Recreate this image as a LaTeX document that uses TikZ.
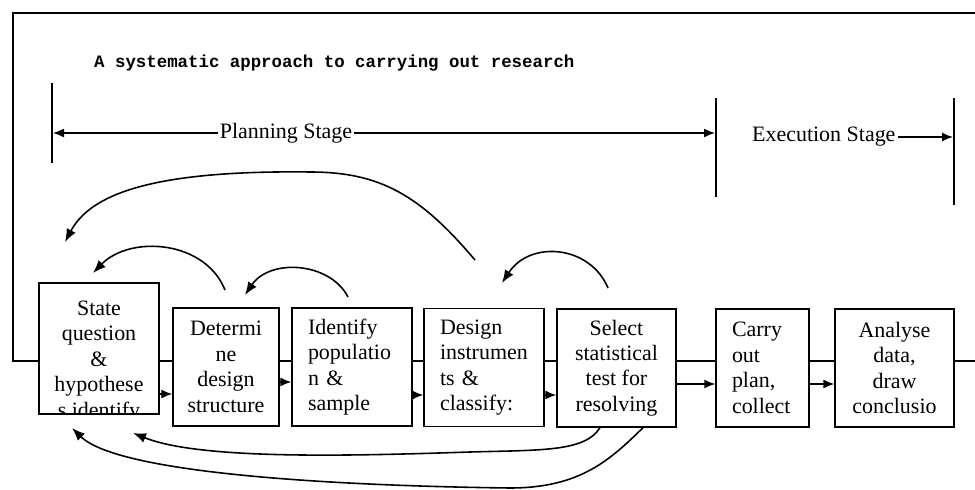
\documentclass[tikz,border=0pt]{standalone}
\usepackage{fontspec}
\setmainfont{Liberation Serif}
\setmonofont{Liberation Mono}
\usetikzlibrary{arrows.meta}
\hyphenpenalty=10000
\exhyphenpenalty=10000

\begin{document}
\begin{tikzpicture}[x=0.2mm,y=-0.2mm,
    box/.style={draw, fill=white, line width=0.8pt, minimum height=23.6mm, inner sep=0pt,
        font=\fontsize{12.5}{14.5}\selectfont},
    lbox/.style={box, align=left, inner xsep=3.2mm},
    cbox/.style={box, align=center},
    arr/.style={-{Latex[length=2.2mm,width=1.8mm]}, line width=0.8pt},
    fb/.style={-{Latex[length=2.6mm,width=2mm]}, line width=0.9pt},
    stage/.style={font=\fontsize{12.5}{15}\selectfont, inner sep=1pt}]
    \useasboundingbox[fill=white] (0,0) rectangle (975,490);

    \node[anchor=west, font=\ttfamily\bfseries\fontsize{9.9}{12}\selectfont] (title) at (88,63) {A systematic approach to carrying out research};

    % stages
    \draw[line width=0.8pt] (52,83) -- (52,163);
    \draw[line width=0.8pt] (716,98) -- (716,197);
    \draw[line width=0.8pt] (954,98) -- (954,205);
    \coordinate (s0) at (53,133);
    \coordinate (s1) at (715,133);
    \coordinate (s2) at (953,137);
    \node[stage] (plan) at (286,133) {Planning Stage};
    \node[stage, anchor=west] (exec) at (750,137) {Execution Stage};
    \draw[arr] (plan.west) -- (s0);
    \draw[arr] (plan.east) -- (s1);
    \draw[arr] (exec.east) -- (s2);

    % frame line
    \coordinate (fr) at (13,361);
    \draw[line width=0.8pt] (975,13) -- (13,13) -- (fr) -- (975,361);

    % boxes
    \node[cbox, minimum width=24mm, minimum height=26.2mm] (b1) at (99,348.5) {};
    \begin{scope}
        \clip (b1.south west) rectangle (b1.north east);
        \node[anchor=north, align=center, inner sep=0pt, font=\fontsize{12.5}{14.5}\selectfont] (t1) at ([yshift=-3.6mm]b1.north) {State\\question\\\&\\hypothese\\s identify};
    \end{scope}
    \node[cbox, minimum width=21.2mm] (b2) at (226,367) {Determi\\ne\\design\\structure};
    \node[lbox, text width=17.6mm] (b3) at (352,367) {Identify\\populatio\\n \&\\sample};
    \node[lbox, text width=17.6mm] (b4) at (484,367.5) {Design\\instrumen\\ts \&\\classify:};
    \node[cbox, minimum width=23.8mm] (b5) at (616.5,368) {Select\\statistical\\test for\\resolving};
    \node[lbox, text width=12.2mm] (b6) at (762.5,368) {Carry\\out\\plan,\\collect};
    \node[cbox, minimum width=23.8mm] (b7) at (894.5,368) {Analyse\\data,\\draw\\conclusio};

    \draw[arr] ([yshift=-9.1mm]b1.east) coordinate (p1) -- (p1 -| b2.west);
    \draw[arr] ([yshift=-3mm]b2.east) coordinate (p2) -- (p2 -| b3.west);
    \draw[arr] ([yshift=-5.6mm]b3.east) coordinate (p3) -- (p3 -| b4.west);
    \draw[arr] ([yshift=-5.5mm]b4.east) coordinate (p4) -- (p4 -| b5.west);
    \draw[arr] ([yshift=-3.2mm]b5.east) coordinate (p5) -- (p5 -| b6.west);
    \draw[arr] ([yshift=-3.2mm]b6.east) coordinate (p6) -- (p6 -| b7.west);

    % feedback
    \coordinate (c1s) at (475,260);
    \coordinate (c1e) at (65,242);
    \coordinate (c2s) at (225,290);
    \coordinate (c2e) at (93,273);
    \coordinate (c3s) at (348,297);
    \coordinate (c3e) at (245,295);
    \coordinate (c4s) at (608,288);
    \coordinate (c4e) at (502,283);
    \coordinate (c5e) at (133,433);
    \coordinate (c6e) at (72,428);
    \draw[fb] (c1s) .. controls (420,195) and (380,172) .. (310,172) .. controls (150,170) and (90,195) .. (c1e);
    \draw[fb] (c2s) .. controls (205,240) and (130,235) .. (c2e);
    \draw[fb] (c3s) .. controls (330,262) and (270,258) .. (c3e);
    \draw[fb] (c4s) .. controls (590,245) and (530,240) .. (c4e);
    \draw[fb] ([xshift=-3.3mm]b5.south) .. controls (585,452) and (540,450) .. (470,452) .. controls (350,456) and (200,460) .. (c5e);
    \draw[fb] ([xshift=5.3mm]b5.south) .. controls (610,460) and (580,488) .. (510,488) .. controls (350,486) and (120,475) .. (c6e);
\end{tikzpicture}
\end{document}
